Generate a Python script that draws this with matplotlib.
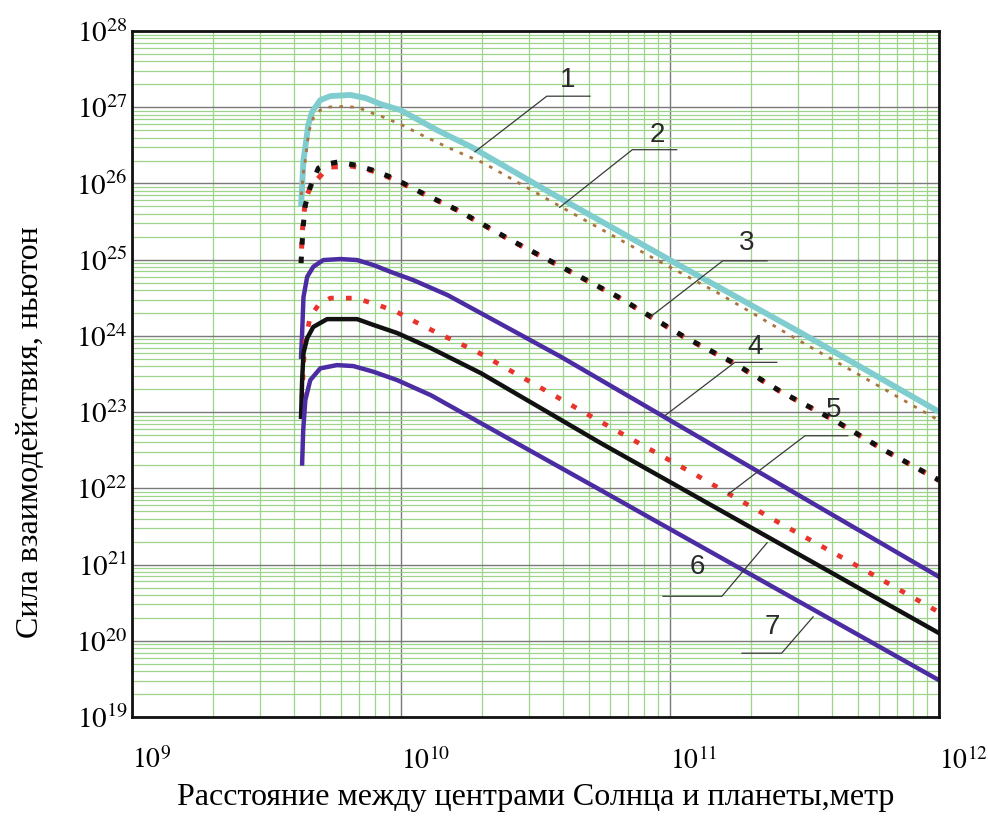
import matplotlib
matplotlib.use("Agg")
import matplotlib.pyplot as plt
from matplotlib.ticker import LogLocator, NullFormatter
from matplotlib.transforms import ScaledTranslation

plt.rcParams['font.family'] = 'Liberation Serif'
plt.rcParams['mathtext.fontset'] = 'stix'

# distance Sun-planet centres, m  /  interaction force, N
r1 = [4.25e9, 4.34e9, 4.41e9, 4.52e9, 4.67e9, 5.01e9, 5.46e9, 6.49e9, 7.38e9,
      8.39e9, 9.95e9, 1.36e10, 1.82e10, 3.61e10, 1.0e11, 3.08e11, 1.0e12]
f1 = [4.94e25, 2.03e26, 3.01e26, 5.83e26, 8.65e26, 1.24e27, 1.40e27, 1.45e27, 1.32e27,
      1.10e27, 9.18e26, 5.02e26, 3.03e26, 7.48e25, 9.89e24, 1.09e24, 1.01e23]

r2 = [4.26e9, 4.34e9, 4.41e9, 4.54e9, 4.72e9, 5.01e9, 5.46e9, 6.05e9, 6.89e9, 7.57e9,
      8.53e9, 1.01e10, 1.23e10, 1.57e10, 2.03e10, 3.93e10, 8.49e10, 1.51e11, 3.0e11, 9.95e11]
f2 = [7.05e25, 1.41e26, 2.03e26, 4.76e26, 7.21e26, 9.18e26, 1.01e27, 1.02e27, 9.98e26, 8.73e26,
      7.50e26, 5.83e26, 4.10e26, 2.74e26, 1.85e26, 4.94e25, 1.09e25, 3.65e24, 8.81e23, 7.85e22]

r3 = [4.25e9, 4.29e9, 4.34e9, 4.41e9, 4.60e9, 4.93e9, 5.32e9, 5.81e9, 6.78e9, 7.83e9,
      8.97e9, 1.02e10, 1.16e10, 1.36e10, 1.62e10, 2.56e10, 4.03e10, 6.40e10, 1.13e11,
      1.73e11, 2.59e11, 4.08e11, 6.27e11, 1.0e12]
f3 = [9.02e24, 1.65e25, 3.02e25, 5.21e25, 8.97e25, 1.59e26, 1.80e26, 1.91e26, 1.74e26, 1.50e26,
      1.25e26, 1.01e26, 7.94e25, 6.05e25, 4.48e25, 1.81e25, 7.76e24, 3.26e24, 9.73e23,
      4.40e23, 1.85e23, 7.85e22, 3.17e22, 1.28e22]

r3b = [4.25e9, 4.30e9, 4.41e9, 4.60e9, 5.37e9, 6.59e9, 7.83e9, 9.14e9, 1.04e10, 1.36e10,
       1.62e10, 2.56e10, 4.03e10, 6.40e10, 1.13e11, 1.73e11, 2.59e11, 4.08e11, 6.27e11, 1.0e12]
f3b = [9.3e24, 2.44e25, 6.05e25, 8.97e25, 1.64e26, 1.69e26, 1.46e26, 1.18e26, 9.53e25, 6.0e25,
       4.45e25, 1.79e25, 7.7e24, 3.23e24, 9.6e23, 4.35e23, 1.83e23, 7.8e22, 3.15e22, 1.27e22]

r4 = [4.25e9, 4.29e9, 4.34e9, 4.48e9, 4.72e9, 5.14e9, 5.96e9, 6.87e9, 7.91e9, 9.14e9,
      1.11e10, 1.49e10, 1.98e10, 3.93e10, 1.0e12]
f4 = [5.32e23, 1.09e24, 3.23e24, 5.97e24, 8.07e24, 9.89e24, 1.02e25, 9.89e24, 8.49e24, 6.93e24,
      5.40e24, 3.43e24, 1.99e24, 5.32e23, 6.90e20]

r5 = [4.29e9, 4.33e9, 4.41e9, 4.60e9, 4.93e9, 5.46e9, 6.78e9, 8.24e9, 9.68e9, 1.13e10,
      1.34e10, 1.92e10, 6.18e10, 1.27e11, 2.55e11, 5.22e11, 1.0e12]
f5 = [1.53e23, 3.93e23, 8.81e23, 1.78e24, 2.54e24, 3.13e24, 3.13e24, 2.54e24, 2.05e24, 1.53e24,
      1.13e24, 6.18e23, 5.98e22, 1.45e22, 3.52e21, 8.71e20, 2.37e20]

r6 = [4.25e9, 4.29e9, 4.34e9, 4.48e9, 4.72e9, 5.31e9, 6.87e9, 7.91e9, 9.68e9, 1.29e10,
      1.98e10, 5.53e10, 1.0e12]
f6 = [8.67e22, 2.63e23, 5.94e23, 9.35e23, 1.31e24, 1.66e24, 1.66e24, 1.39e24, 1.09e24, 6.92e23,
      3.25e23, 3.92e22, 1.26e20]

r7 = [4.29e9, 4.33e9, 4.41e9, 4.60e9, 5.01e9, 5.78e9, 6.65e9, 7.91e9, 9.68e9, 1.29e10,
      1.98e10, 5.53e10, 1.0e12]
f7 = [2.12e22, 5.81e22, 1.44e23, 2.63e23, 3.75e23, 4.14e23, 4.02e23, 3.38e23, 2.63e23, 1.67e23,
      7.18e22, 9.46e21, 3.04e19]

x_ticks = [1e9, 1e10, 1e11, 1e12]
x_labels = ['$10^{9}$', '$10^{10}$', '$10^{11}$', '$10^{12}$']
y_ticks = [10.0 ** k for k in range(19, 29)]
y_labels = ['$10^{%d}$' % k for k in range(19, 29)]

curve_names = ['1', '2', '3', '4', '5', '6', '7']

PURPLE = '#4b2ca3'
RED = '#e8342c'

##### PLOT #####
fig = plt.figure(figsize=(9.88, 8.23), dpi=100)
ax = fig.add_axes([0.1336, 0.1288, 0.8168, 0.8335])
ax.set_xscale('log')
ax.set_yscale('log')
ax.set_xlim(1e9, 1e12)
ax.set_ylim(1e19, 1e28)

# grid: green minor, grey major
ax.xaxis.set_minor_locator(LogLocator(base=10, subs=range(2, 10), numticks=20))
ax.yaxis.set_minor_locator(LogLocator(base=10, subs=range(2, 10), numticks=40))
ax.xaxis.set_minor_formatter(NullFormatter())
ax.yaxis.set_minor_formatter(NullFormatter())
ax.grid(which='minor', color='#9dd48a', linewidth=0.9)
ax.grid(which='major', color='#7a7a7a', linewidth=1.0)
ax.set_axisbelow(True)

ax.plot(r1, f1, '-', color='#80cdd0', lw=4.2, solid_capstyle='butt')
ax.plot(r2, f2, color='#a9743f', lw=2.0, linestyle=(0, (1.3, 2.6)))
ax.plot(r3b, f3b, color=RED, lw=3.6, linestyle=(1.0, (1.3, 2.4)))
ax.plot(r3, f3, color='#111111', lw=3.6, linestyle=(0, (1.3, 2.4)))
ax.plot(r4, f4, '-', color=PURPLE, lw=3.2)
ax.plot(r5, f5, color=RED, lw=3.4, linestyle=(0, (1.2, 2.6)))
ax.plot(r6, f6, '-', color='#111111', lw=3.2)
ax.plot(r7, f7, '-', color=PURPLE, lw=3.2)

# leader lines with curve numbers (axes fraction)
leaders = [
    ((0.540, 0.928), [(0.5675, 0.905), (0.514, 0.905), (0.425, 0.824)]),
    ((0.651, 0.848), [(0.675, 0.827), (0.620, 0.827), (0.530, 0.743)]),
    ((0.762, 0.691), [(0.787, 0.665), (0.732, 0.665), (0.642, 0.583)]),
    ((0.772, 0.539), [(0.799, 0.517), (0.747, 0.517), (0.660, 0.439)]),
    ((0.869, 0.448), [(0.887, 0.410), (0.834, 0.410), (0.739, 0.325)]),
    ((0.701, 0.219), [(0.658, 0.176), (0.731, 0.176), (0.787, 0.254)]),
    ((0.794, 0.131), [(0.756, 0.093), (0.805, 0.093), (0.844, 0.146)]),
]
for name, (txt, pts) in zip(curve_names, leaders):
    xs = [p[0] for p in pts]
    ys = [p[1] for p in pts]
    ax.plot(xs, ys, color='#3a3a3a', lw=0.9, transform=ax.transAxes)
    ax.text(txt[0], txt[1], name, transform=ax.transAxes, ha='center', va='center',
            fontsize=20, family='Liberation Sans', color='#2a2a2a')

ax.set_xticks(x_ticks)
ax.set_xticklabels(x_labels, fontsize=20)
ax.set_yticks(y_ticks)
ax.set_yticklabels(y_labels, fontsize=21)
xlabs = ax.get_xticklabels()
for lab in xlabs:
    lab.set_horizontalalignment('left')
# pull the last label in so it stays inside the figure
xlabs[-1].set_transform(xlabs[-1].get_transform() + ScaledTranslation(-8 / 100, 0, fig.dpi_scale_trans))
ax.tick_params(axis='both', which='both', length=0)
ax.tick_params(axis='x', pad=22)
ax.tick_params(axis='y', pad=3)

for sp in ax.spines.values():
    sp.set_color('#111111')
    sp.set_linewidth(2.0)

ax.set_xlabel('Расстояние между центрами Солнца и планеты,метр', fontsize=23, labelpad=6)
ax.set_ylabel('Сила взаимодействия, ньютон', fontsize=23)
ax.yaxis.set_label_coords(-0.108, 0.415)

plt.savefig('out.png', dpi=100)
